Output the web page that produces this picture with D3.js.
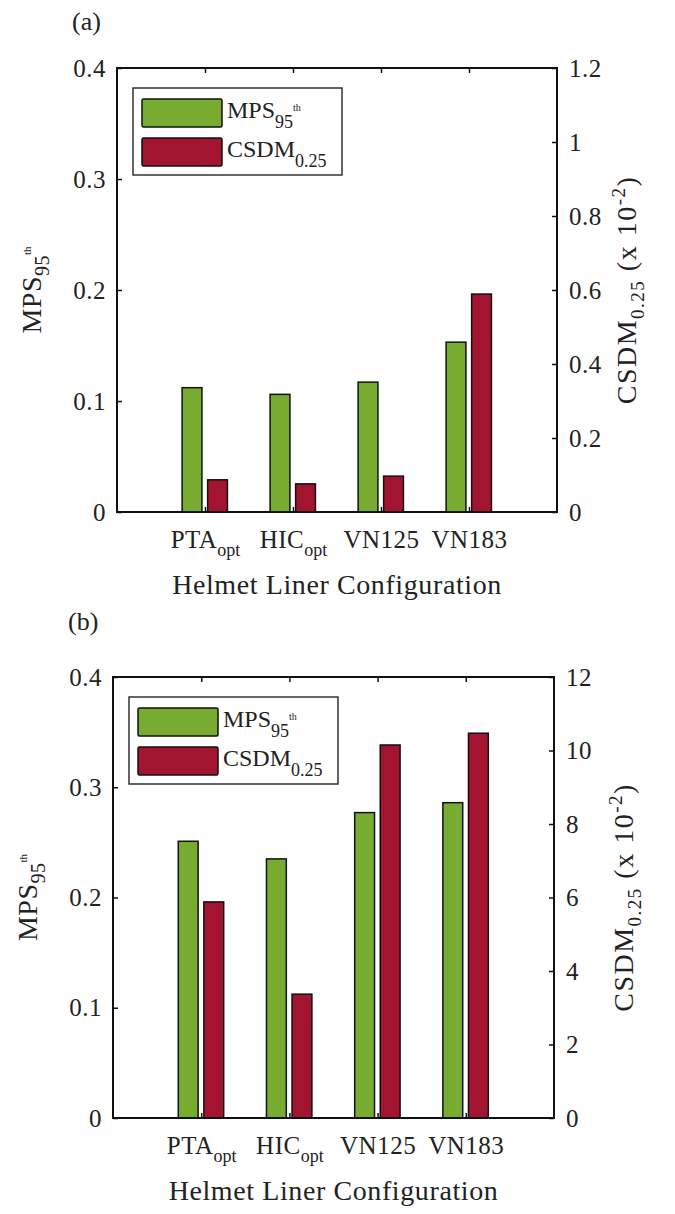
<!DOCTYPE html>
<html>
<head>
<meta charset="utf-8">
<script src="https://cdn.jsdelivr.net/npm/d3@7"></script>
<style>
  body { margin: 0; background: #fff; }
  text { font-family: 'Liberation Serif', 'Times New Roman', serif; fill: #222; }
</style>
</head>
<body>
<script>
// data
const categories = ['PTA', 'HIC', 'VN125', 'VN183'];
const categorySubs = ['opt', 'opt', '', ''];
const mpsA = [0.112, 0.106, 0.117, 0.153];
const csdmA = [0.087, 0.076, 0.097, 0.589]; // x 10^-2
const mpsB = [0.251, 0.235, 0.277, 0.286];
const csdmB = [5.88, 3.37, 10.15, 10.47]; // x 10^-2
const leftTicks = [0, 0.1, 0.2, 0.3, 0.4];
const rightTicksA = [0, 0.2, 0.4, 0.6, 0.8, 1, 1.2];
const rightTicksB = [0, 2, 4, 6, 8, 10, 12];
const seriesColors = ['#77ac30', '#a2142f'];

const barPanel = () => {
  let box;
  let mps;
  let csdm;
  let rightTicks;
  let tag;

  const my = (selection) => {
    const x = d3.scaleLinear()
      .domain([0, categories.length + 1])
      .range([box.left, box.right]);
    const yL = d3.scaleLinear()
      .domain([0, d3.max(leftTicks)])
      .range([box.bottom, box.top]);
    const yR = d3.scaleLinear()
      .domain([0, d3.max(rightTicks)])
      .range([box.bottom, box.top]);
    const fmt = d3.format('~g');
    const mid = (box.top + box.bottom) / 2;

    // ticks (inward, like matlab)
    const styleAxis = (g, size, spacing) => {
      g.select('.domain').remove();
      g.attr('color', '#111').attr('font-size', size);
      g.selectAll('.tick line').attr('stroke-width', 1.5);
      g.selectAll('.tick text').attr('letter-spacing', spacing);
    };

    selection.append('g')
      .attr('transform', `translate(${box.left},0)`)
      .call(d3.axisLeft(yL).tickValues(leftTicks).tickSize(-5).tickPadding(11).tickFormat(fmt))
      .call(styleAxis, 25, 0.5);

    selection.append('g')
      .attr('transform', `translate(${box.right},0)`)
      .call(d3.axisRight(yR).tickValues(rightTicks).tickSize(-5).tickPadding(12).tickFormat(fmt))
      .call(styleAxis, 25, 0.5);

    selection.append('g')
      .attr('transform', `translate(0,${box.top})`)
      .call(d3.axisTop(x).tickValues(d3.range(1, categories.length + 1)).tickSize(-5).tickFormat(''))
      .call(styleAxis, 25, 0);

    const xAxis = selection.append('g')
      .attr('transform', `translate(0,${box.bottom})`)
      .call(d3.axisBottom(x).tickValues(d3.range(1, categories.length + 1))
        .tickSize(-5).tickPadding(18).tickFormat((d) => categories[d - 1]))
      .call(styleAxis, 25, 0.5);

    xAxis.selectAll('.tick text').each(function (d) {
      const sub = categorySubs[d - 1];
      if (sub) {
        d3.select(this).append('tspan')
          .attr('dy', 8)
          .attr('font-size', 18)
          .attr('letter-spacing', 0)
          .text(sub);
      }
    });

    // bars
    selection.append('g')
      .selectAll('rect')
      .data(mps)
      .join('rect')
      .attr('x', (d, i) => x(i + 1 - 0.26))
      .attr('width', (d, i) => x(i + 1 - 0.035) - x(i + 1 - 0.26))
      .attr('y', (d) => yL(d))
      .attr('height', (d) => yL(0) - yL(d))
      .attr('fill', seriesColors[0])
      .attr('stroke', '#111')
      .attr('stroke-width', 1.5);

    selection.append('g')
      .selectAll('rect')
      .data(csdm)
      .join('rect')
      .attr('x', (d, i) => x(i + 1 + 0.03))
      .attr('width', (d, i) => x(i + 1 + 0.255) - x(i + 1 + 0.03))
      .attr('y', (d) => yR(d))
      .attr('height', (d) => yR(0) - yR(d))
      .attr('fill', seriesColors[1])
      .attr('stroke', '#111')
      .attr('stroke-width', 1.5);

    // axes box
    selection.append('rect')
      .attr('x', box.left)
      .attr('y', box.top)
      .attr('width', box.right - box.left)
      .attr('height', box.bottom - box.top)
      .attr('fill', 'none')
      .attr('stroke', '#111')
      .attr('stroke-width', 2);

    // legend
    const legend = selection.append('g')
      .attr('transform', `translate(${box.left + 16},${box.top + 20})`);
    legend.append('rect')
      .attr('width', 209)
      .attr('height', 87)
      .attr('fill', '#fff')
      .attr('stroke', '#333')
      .attr('stroke-width', 1.5);
    legend.selectAll('rect.swatch')
      .data(seriesColors)
      .join('rect')
      .attr('class', 'swatch')
      .attr('x', 9)
      .attr('y', (d, i) => 11 + i * 39)
      .attr('width', 80)
      .attr('height', 28)
      .attr('rx', 1.5)
      .attr('fill', (d) => d)
      .attr('stroke', '#111')
      .attr('stroke-width', 1.5);

    const l1 = legend.append('text')
      .attr('x', 94).attr('y', 30).attr('font-size', 24);
    l1.append('tspan').text('MPS');
    l1.append('tspan').attr('dy', 10).attr('font-size', 18).text('95');
    l1.append('tspan').attr('dy', -17).attr('font-size', 10).text('th');

    const l2 = legend.append('text')
      .attr('x', 94).attr('y', 69).attr('font-size', 24);
    l2.append('tspan').text('CSDM');
    l2.append('tspan').attr('dy', 10).attr('font-size', 18).text('0.25');

    // axis titles
    const yTitle = selection.append('text')
      .attr('transform', `translate(${box.left - 76},${mid}) rotate(-90)`)
      .attr('text-anchor', 'middle')
      .attr('font-size', 28)
      .attr('letter-spacing', 0.5);
    yTitle.append('tspan').text('MPS');
    yTitle.append('tspan').attr('dy', 8).attr('font-size', 20).text('95');
    yTitle.append('tspan').attr('dy', -18).attr('font-size', 11).attr('letter-spacing', 0).text('th');

    const rTitle = selection.append('text')
      .attr('transform', `translate(${box.right + 79},${mid}) rotate(-90)`)
      .attr('text-anchor', 'middle')
      .attr('font-size', 28)
      .attr('letter-spacing', 1.5);
    rTitle.append('tspan').text('CSDM');
    rTitle.append('tspan').attr('dy', 8).attr('font-size', 19).text('0.25');
    rTitle.append('tspan').attr('dy', -8).text(' (x 10');
    rTitle.append('tspan').attr('dy', -11).attr('font-size', 19).text('-2');
    rTitle.append('tspan').attr('dy', 11).text(')');

    selection.append('text')
      .attr('x', (box.left + box.right) / 2)
      .attr('y', box.bottom + 82)
      .attr('text-anchor', 'middle')
      .attr('font-size', 28)
      .attr('letter-spacing', 0.6)
      .text('Helmet Liner Configuration');

    selection.append('text')
      .attr('x', tag.x)
      .attr('y', tag.y)
      .attr('font-size', 26)
      .text(tag.label);
  };

  my.box = function (_) { return arguments.length ? ((box = _), my) : box; };
  my.mps = function (_) { return arguments.length ? ((mps = _), my) : mps; };
  my.csdm = function (_) { return arguments.length ? ((csdm = _), my) : csdm; };
  my.rightTicks = function (_) { return arguments.length ? ((rightTicks = _), my) : rightTicks; };
  my.tag = function (_) { return arguments.length ? ((tag = _), my) : tag; };

  return my;
};

const width = 675;
const height = 1214;

const svg = d3.select('body')
  .append('svg')
  .attr('width', width)
  .attr('height', height);

svg.append('g').call(
  barPanel()
    .box({ left: 117, right: 557, top: 68, bottom: 512 })
    .mps(mpsA)
    .csdm(csdmA)
    .rightTicks(rightTicksA)
    .tag({ label: '(a)', x: 72, y: 30 })
);

svg.append('g').call(
  barPanel()
    .box({ left: 113, right: 554, top: 677, bottom: 1118 })
    .mps(mpsB)
    .csdm(csdmB)
    .rightTicks(rightTicksB)
    .tag({ label: '(b)', x: 68, y: 630 })
);
</script>
</body>
</html>
